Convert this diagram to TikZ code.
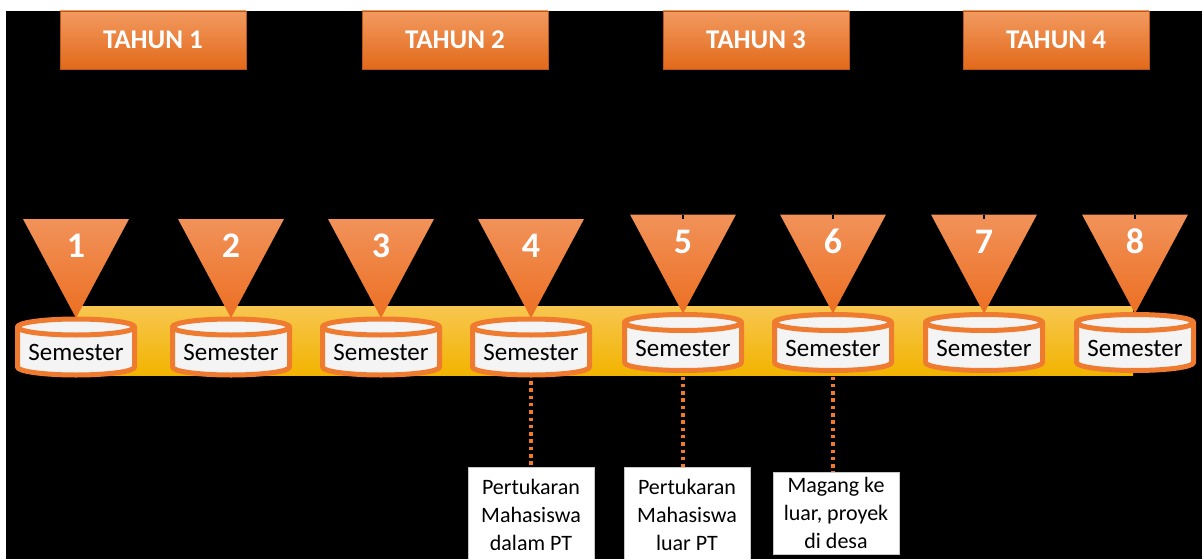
\documentclass[tikz,border=0pt]{standalone}
\usepackage{fontspec}
\setmainfont{Carlito}
\definecolor{yeartop}{HTML}{F29A60}
\definecolor{yearmid}{HTML}{F4812C}
\definecolor{yearbot}{HTML}{E2691A}
\definecolor{yearedge}{HTML}{B8561A}
\definecolor{tritop}{HTML}{F1925A}
\definecolor{tribot}{HTML}{EC6F22}
\definecolor{bandtop}{HTML}{F7C650}
\definecolor{bandmid}{HTML}{FFC10E}
\definecolor{bandbot}{HTML}{F2B400}
\definecolor{cylline}{HTML}{EE7B30}
\definecolor{cylfill}{HTML}{F4F4F4}
\definecolor{dotorange}{HTML}{F07A2A}
\tikzset{
  yearbox/.style={draw=yearedge, line width=0.8pt, top color=yeartop,
    middle color=yearmid, bottom color=yearbot, minimum width=186pt,
    minimum height=58pt, inner sep=0pt, text=white,
    font=\bfseries\fontsize{27}{30}\selectfont},
  semtri/.style={top color=tritop, bottom color=tribot},
  numlabel/.style={text=white, inner sep=0pt, font=\bfseries\fontsize{36}{40}\selectfont},
  cylbody/.style={draw=cylline, fill=cylfill, line width=5pt, line join=round},
  semlabel/.style={inner sep=0pt, text=black, font=\fontsize{25}{28}\selectfont},
  infobox/.style={draw=gray!45, line width=0.8pt, fill=white, minimum width=126pt,
    inner sep=0pt, align=center, font=\fontsize{22}{28}\selectfont},
  dotline/.style={draw=dotorange, line width=3.5pt, dash pattern=on 3.5pt off 3.8pt}
}
\begin{document}
\begin{tikzpicture}[x=1pt,y=1pt]
\useasboundingbox (0,0) rectangle (1202,-559);
\fill[white] (0,0) rectangle (1202,-559);
\fill[black] (6,-11) rectangle (1202,-559);

% year headers
\node[yearbox] (y1) at (153,-40) {TAHUN 1};
\node[yearbox] (y2) at (455,-40) {TAHUN 2};
\node[yearbox] (y3) at (756,-40) {TAHUN 3};
\node[yearbox] (y4) at (1056,-40) {TAHUN 4};

% timeline band
\shade[top color=bandtop, middle color=bandmid, bottom color=bandbot]
  (76,-306) rectangle (1133,-375);

% semesters: index / centre x / vertical shift
\foreach \i/\cx/\dy in {1/76/0, 2/231/0, 3/381/0, 4/531/0,
                        5/683/4.5, 6/833/4.5, 7/984/4.5, 8/1135/4.5} {
  % cylinder
  \filldraw[cylbody] (\cx-58.5,-327+\dy) -- (\cx-58.5,-367+\dy)
    arc[start angle=180, end angle=360, x radius=58.5, y radius=8]
    -- (\cx+58.5,-327+\dy) -- cycle;
  \filldraw[cylbody] (\cx,-327+\dy) ellipse[x radius=58.5, y radius=8];
  \node[semlabel] (s\i) at (\cx,-352.5+\dy) {Semester};
  \coordinate (c\i) at (\cx,-381+\dy);
  % marker triangle
  \path[semtri] (\cx-53,-219+\dy) -- (\cx+53,-219+\dy) -- (\cx,-318+\dy) -- cycle;
  \node[numlabel] (n\i) at (\cx,-246+\dy) {\i};
}

% small ticks on the upper markers
\foreach \cx in {683,833,984,1135}
  \draw[black, line width=1.6pt] (\cx,-214.5) -- (\cx,-218.5);

% activity boxes
\node[infobox, minimum height=96pt] (b1) at (531,-515) {Pertukaran\\Mahasiswa\\dalam PT};
\node[infobox, minimum height=96pt] (b2) at (687,-515) {Pertukaran\\Mahasiswa\\luar PT};
\node[infobox, minimum height=82pt] (b3) at (836,-513) {Magang ke\\luar, proyek\\di desa};

% dotted links
\draw[dotline] (c4) -- (c4 |- b1.north);
\draw[dotline] (c5) -- (c5 |- b2.north);
\draw[dotline] (c6) -- (c6 |- b3.north);
\end{tikzpicture}
\end{document}
